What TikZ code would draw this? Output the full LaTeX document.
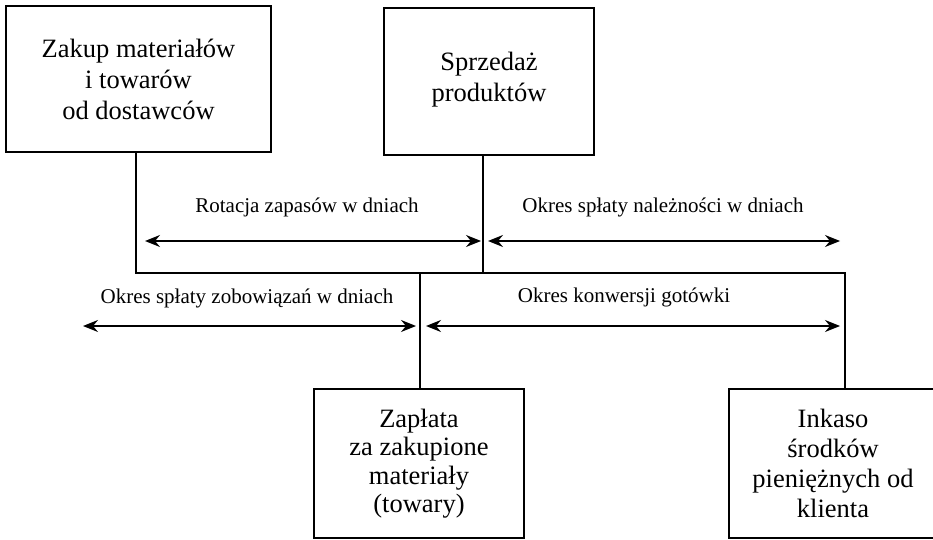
\documentclass[tikz,border=0pt]{standalone}
\usepackage{fontspec}
\setmainfont{Liberation Serif}
\usetikzlibrary{arrows.meta}
\tikzset{
  box/.style={draw, line width=1.7pt, rectangle, align=center, inner sep=0pt,
    font=\fontsize{26.5}{31}\selectfont},
  conn/.style={line width=1.7pt},
  span/.style={line width=1.5pt, {Stealth[length=15pt,width=12pt,inset=5pt]}-{Stealth[length=15pt,width=12pt,inset=5pt]}},
  lbl/.style={font=\fontsize{21}{25}\selectfont, inner sep=0pt}
}
\begin{document}
\begin{tikzpicture}[x=1pt,y=-1pt]
\useasboundingbox (0,0) rectangle (933,540);
% boxes
\node[box, minimum width=265pt, minimum height=146pt] (b1) at (138.5,79)
  {Zakup materiałów\\i towarów\\od dostawców};
\node[box, minimum width=210pt, minimum height=147pt,
  font=\fontsize{26.5}{31}\selectfont] (b2) at (489,81.5)
  {Sprzedaż\\produktów\\[-21pt]};
\node[box, minimum width=210pt, minimum height=149pt,
  font=\fontsize{26.5}{28.5}\selectfont] (b3) at (419,463.5)
  {Zapłata\\za zakupione\\materiały\\(towary)};
\node[box, minimum width=208pt, minimum height=149pt,
  font=\fontsize{26.5}{30}\selectfont] (b4) at (833,463.5)
  {Inkaso\\środków\\pieniężnych od\\klienta};
% junction coordinates
\coordinate (j1) at (136,273);
\coordinate (j2) at (483,273);
\coordinate (j3) at (420,273);
\coordinate (j4) at (845,273);
% connectors
\draw[conn] (b1.south -| j1) -- (j1) -- (j2) -- (j4) -- (b4.north -| j4);
\draw[conn] (b2.south -| j2) -- (j2);
\draw[conn] (j3) -- (b3.north -| j3);
% arrow end points
\coordinate (a1l) at (145,241);
\coordinate (a1r) at (481,241);
\coordinate (a2l) at (488,241);
\coordinate (a2r) at (840,241);
\coordinate (a3l) at (83,326);
\coordinate (a3r) at (416,326);
\coordinate (a4l) at (426,326);
\coordinate (a4r) at (840,326);
\draw[span] (a1l) -- (a1r);
\draw[span] (a2l) -- (a2r);
\draw[span] (a3l) -- (a3r);
\draw[span] (a4l) -- (a4r);
% labels
\node[lbl] (l1) at (307,207) {Rotacja zapasów w dniach};
\node[lbl] (l2) at (663,207) {Okres spłaty należności w dniach};
\node[lbl] (l3) at (247,298) {Okres spłaty zobowiązań w dniach};
\node[lbl] (l4) at (624,297) {Okres konwersji gotówki};
\end{tikzpicture}
\end{document}
